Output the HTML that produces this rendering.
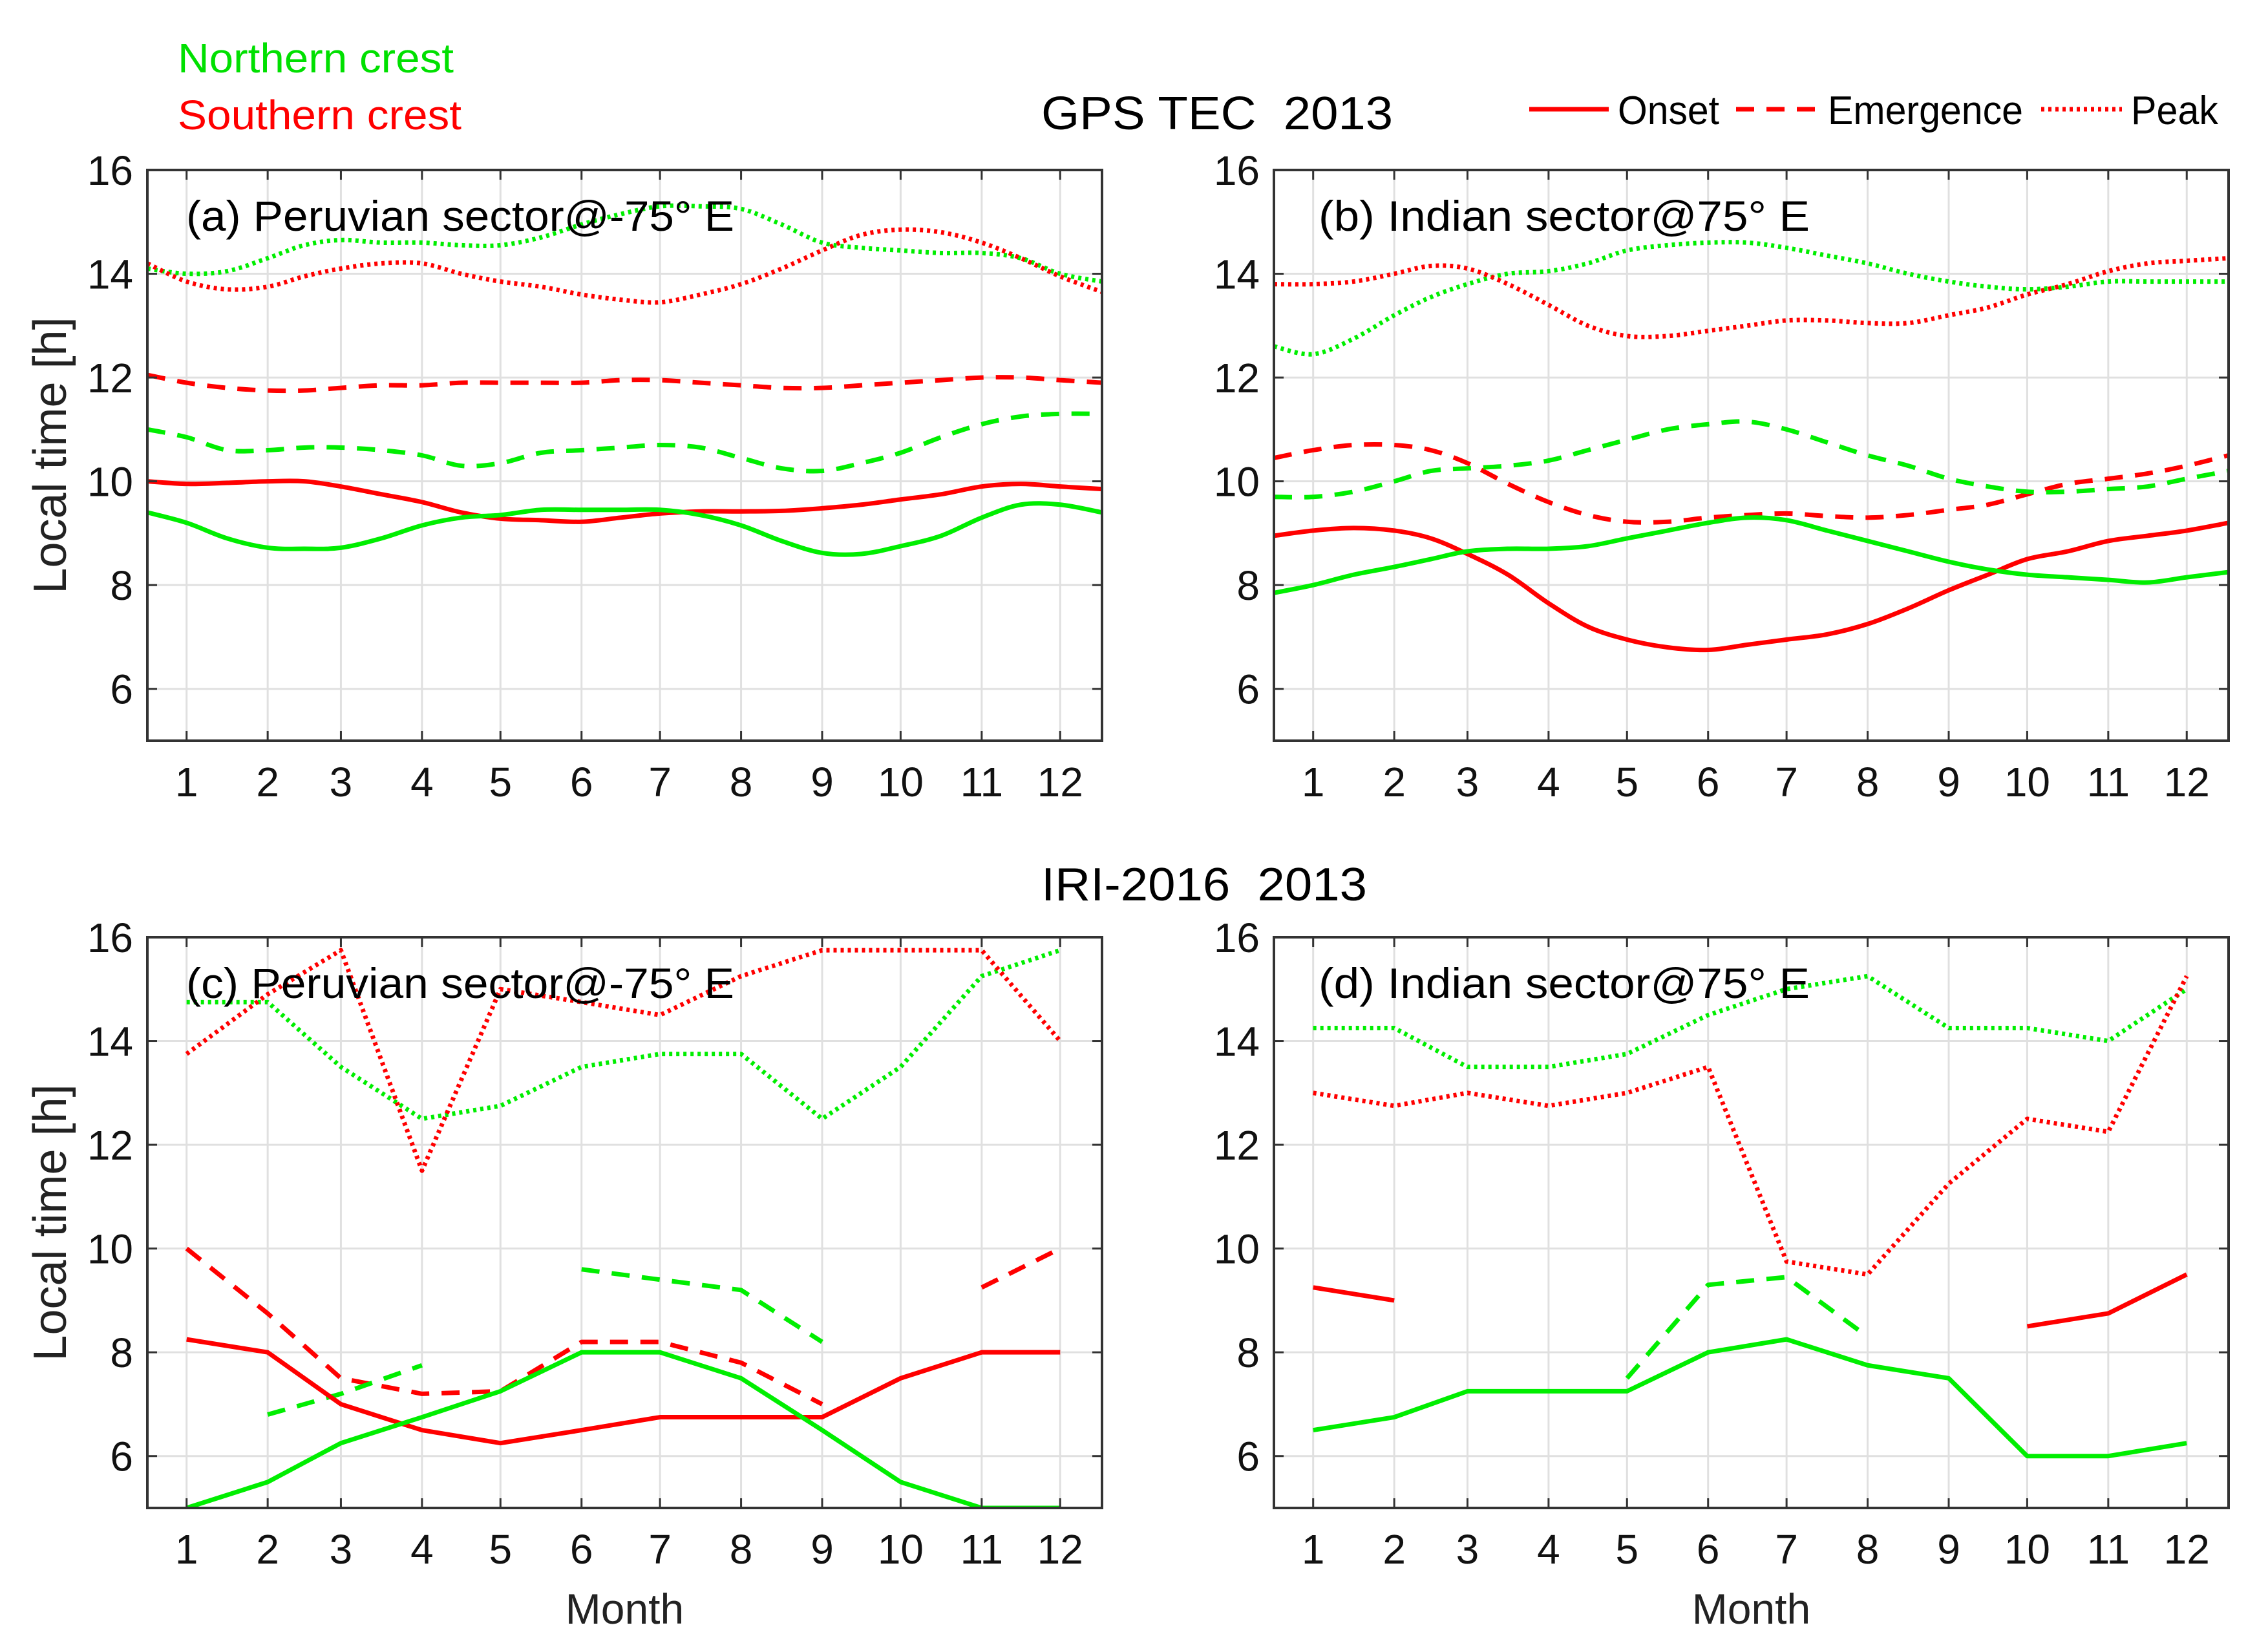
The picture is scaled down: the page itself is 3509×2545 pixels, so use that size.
<!DOCTYPE html>
<html><head><meta charset="utf-8"><style>
html,body{margin:0;padding:0;background:#fff;}
svg{display:block;font-family:"Liberation Sans",Arial,sans-serif;}
</style></head><body>
<svg id="fig" width="3509" height="2545" viewBox="0 0 3509 2545" xmlns="http://www.w3.org/2000/svg">
<rect x="0" y="0" width="3509" height="2545" fill="#fff"/>
<text x="275" y="112" font-size="64" textLength="427" lengthAdjust="spacingAndGlyphs" fill="#00e000">Northern crest</text>
<text x="275" y="200" font-size="64" textLength="439" lengthAdjust="spacingAndGlyphs" fill="#ff0000">Southern crest</text>
<text x="1611" y="200" font-size="72" textLength="544" lengthAdjust="spacingAndGlyphs" fill="#000">GPS TEC&#160;&#160;2013</text>
<text x="1611" y="1393" font-size="72" textLength="504" lengthAdjust="spacingAndGlyphs" fill="#000">IRI-2016&#160;&#160;2013</text>
<g>
  <line x1="2366" y1="169" x2="2489" y2="169" stroke="#ff0000" stroke-width="7"/>
  <text x="2503" y="192" font-size="62" textLength="157" lengthAdjust="spacingAndGlyphs">Onset</text>
  <line x1="2686" y1="169" x2="2808" y2="169" stroke="#ff0000" stroke-width="7" stroke-dasharray="28,19"/>
  <text x="2828" y="192" font-size="62" textLength="302" lengthAdjust="spacingAndGlyphs">Emergence</text>
  <line x1="3158" y1="169" x2="3283" y2="169" stroke="#ff0000" stroke-width="7" stroke-dasharray="5,6"/>
  <text x="3297" y="192" font-size="62" textLength="135" lengthAdjust="spacingAndGlyphs">Peak</text>
</g>
<g id="panels"></g>
</svg>
<script>
// month sample grids (month positions; mapped to day-of-year for the axis)
const halfMonths = [0.5,1,1.5,2,2.5,3,3.5,4,4.5,5,5.5,6,6.5,7,7.5,8,8.5,9,9.5,10,10.5,11,11.5,12,12.5];
const months = [1,2,3,4,5,6,7,8,9,10,11,12];
const tickDays = [15,46,74,105,135,166,196,227,258,288,319,349];
const yTicks = [6,8,10,12,14,16];
const xTickLabels = ["1","2","3","4","5","6","7","8","9","10","11","12"];

// Panel (a) GPS TEC Peruvian
const aNPeak = [14.1,14.0,14.05,14.3,14.55,14.65,14.6,14.6,14.55,14.55,14.7,14.95,15.15,15.3,15.3,15.25,14.95,14.6,14.5,14.45,14.4,14.4,14.3,14.0,13.85];
const aSPeak = [14.2,13.85,13.7,13.75,13.95,14.1,14.2,14.2,14.0,13.85,13.75,13.6,13.5,13.45,13.6,13.8,14.1,14.45,14.75,14.85,14.8,14.6,14.3,13.95,13.65];
const aSEmer = [12.05,11.9,11.8,11.75,11.75,11.8,11.85,11.85,11.9,11.9,11.9,11.9,11.95,11.95,11.9,11.85,11.8,11.8,11.85,11.9,11.95,12.0,12.0,11.95,11.9];
const aNEmer = [11.0,10.85,10.6,10.6,10.65,10.65,10.6,10.5,10.3,10.35,10.55,10.6,10.65,10.7,10.65,10.45,10.25,10.2,10.35,10.55,10.85,11.1,11.25,11.3,11.3];
const aSOnset = [10.0,9.95,9.97,10.0,10.0,9.9,9.75,9.6,9.4,9.28,9.25,9.22,9.3,9.38,9.42,9.42,9.43,9.48,9.55,9.65,9.75,9.9,9.95,9.9,9.85];
const aNOnset = [9.4,9.2,8.9,8.72,8.7,8.72,8.9,9.15,9.3,9.35,9.45,9.45,9.45,9.45,9.35,9.15,8.85,8.62,8.6,8.75,8.95,9.3,9.55,9.55,9.4];

// Panel (b) GPS TEC Indian
const bNPeak = [12.6,12.45,12.75,13.2,13.55,13.8,14.0,14.05,14.2,14.45,14.55,14.6,14.6,14.5,14.35,14.2,14.0,13.85,13.75,13.7,13.75,13.85,13.85,13.85,13.85];
const bSPeak = [13.8,13.8,13.85,14.0,14.15,14.1,13.8,13.4,13.0,12.8,12.8,12.9,13.0,13.1,13.1,13.05,13.05,13.2,13.35,13.6,13.8,14.05,14.2,14.25,14.3];
const bSEmer = [10.45,10.6,10.7,10.7,10.6,10.35,9.95,9.6,9.35,9.22,9.22,9.3,9.35,9.38,9.33,9.3,9.35,9.45,9.55,9.75,9.95,10.05,10.15,10.3,10.5];
const bNEmer = [9.7,9.7,9.8,10.0,10.2,10.25,10.3,10.4,10.6,10.8,11.0,11.1,11.15,11.0,10.75,10.5,10.3,10.05,9.9,9.8,9.8,9.85,9.9,10.05,10.2];
const bSOnset = [8.95,9.05,9.1,9.05,8.9,8.6,8.2,7.65,7.2,6.95,6.8,6.75,6.85,6.95,7.05,7.25,7.55,7.9,8.2,8.5,8.65,8.85,8.95,9.05,9.2];
const bNOnset = [7.85,8.0,8.2,8.35,8.5,8.65,8.7,8.7,8.75,8.9,9.05,9.2,9.3,9.25,9.05,8.85,8.65,8.45,8.3,8.2,8.15,8.1,8.05,8.15,8.25];

// Panel (c) IRI Peruvian
const cNPeak = [14.75,14.75,13.5,12.5,12.75,13.5,13.75,13.75,12.5,13.5,15.25,15.75];
const cSPeak = [13.75,14.9,15.75,11.5,15.0,14.75,14.5,15.25,15.75,15.75,15.75,14.0];
const cSEmer = [10.0,8.75,7.5,7.2,7.25,8.2,8.2,7.8,7.0,null,9.25,10.0];
const cNEmer = [null,6.8,7.2,7.75,null,9.6,9.4,9.2,8.2,null,null,null];
const cSOnset = [8.25,8.0,7.0,6.5,6.25,6.5,6.75,6.75,6.75,7.5,8.0,8.0];
const cNOnset = [5.0,5.5,6.25,6.75,7.25,8.0,8.0,7.5,6.5,5.5,5.0,5.0];

// Panel (d) IRI Indian
const dNPeak = [14.25,14.25,13.5,13.5,13.75,14.5,15.0,15.25,14.25,14.25,14.0,15.0];
const dSPeak = [13.0,12.75,13.0,12.75,13.0,13.5,9.75,9.5,11.25,12.5,12.25,15.25];
const dSOnset = [9.25,9.0,null,null,null,null,null,null,null,8.5,8.75,9.5];
const dNEmer = [null,null,null,null,7.5,9.3,9.45,8.3,null,null,null,null];
const dNOnset = [6.5,6.75,7.25,7.25,7.25,8.0,8.25,7.75,7.5,6.0,6.0,6.25];

const NS="http://www.w3.org/2000/svg";
const GREEN="#00ee00", RED="#ff0000";
const styles={onset:{w:7,d:null},emer:{w:7,d:"28,19"},peak:{w:7,d:"5,6"}};

const panels=[
 {id:"a",x0:228,y0:263,label:"(a)  Peruvian sector@-75° E",labelX:288,labelLen:848,xs:halfMonths,smooth:true,ylab:true,month:false,
  series:[["n-peak",aNPeak,GREEN,"peak"],["s-peak",aSPeak,RED,"peak"],["s-emergence",aSEmer,RED,"emer"],["n-emergence",aNEmer,GREEN,"emer"],["s-onset",aSOnset,RED,"onset"],["n-onset",aNOnset,GREEN,"onset"]]},
 {id:"b",x0:1971,y0:263,label:"(b)   Indian sector@75° E",labelX:2040,labelLen:760,xs:halfMonths,smooth:true,ylab:false,month:false,
  series:[["n-peak",bNPeak,GREEN,"peak"],["s-peak",bSPeak,RED,"peak"],["s-emergence",bSEmer,RED,"emer"],["n-emergence",bNEmer,GREEN,"emer"],["s-onset",bSOnset,RED,"onset"],["n-onset",bNOnset,GREEN,"onset"]]},
 {id:"c",x0:228,y0:1450,label:"(c)  Peruvian sector@-75° E",labelX:288,labelLen:848,xs:months,smooth:false,ylab:true,month:true,
  series:[["n-peak",cNPeak,GREEN,"peak"],["s-peak",cSPeak,RED,"peak"],["s-emergence",cSEmer,RED,"emer"],["n-emergence",cNEmer,GREEN,"emer"],["s-onset",cSOnset,RED,"onset"],["n-onset",cNOnset,GREEN,"onset"]]},
 {id:"d",x0:1971,y0:1450,label:"(d)   Indian sector@75° E",labelX:2040,labelLen:760,xs:months,smooth:false,ylab:false,month:true,
  series:[["n-peak",dNPeak,GREEN,"peak"],["s-peak",dSPeak,RED,"peak"],["s-onset",dSOnset,RED,"onset"],["n-emergence",dNEmer,GREEN,"emer"],["n-onset",dNOnset,GREEN,"onset"]]}
];
const W=1477,H=883;
const root=document.getElementById("panels");
function mk(t,a,p){const e=document.createElementNS(NS,t);for(const k in a)e.setAttribute(k,a[k]);(p||root).appendChild(e);return e;}

// map month position to day of year (piecewise linear through mid-month ticks)
function monthToDay(m){
  const ms=[0.5].concat(months,[12.5]);
  const ds=[0].concat(tickDays,[365]);
  for(let i=0;i<ms.length-1;i++){
    if(m<=ms[i+1]){const f=(m-ms[i])/(ms[i+1]-ms[i]);return ds[i]+f*(ds[i+1]-ds[i]);}
  }
  return 365;
}

function pathSmooth(pts){
  let d="M"+pts[0][0]+","+pts[0][1];
  for(let i=0;i<pts.length-1;i++){
    const p0=pts[Math.max(0,i-1)],p1=pts[i],p2=pts[i+1],p3=pts[Math.min(pts.length-1,i+2)];
    const c1x=p1[0]+(p2[0]-p0[0])/6,c1y=p1[1]+(p2[1]-p0[1])/6;
    const c2x=p2[0]-(p3[0]-p1[0])/6,c2y=p2[1]-(p3[1]-p1[1])/6;
    d+=" C"+c1x+","+c1y+" "+c2x+","+c2y+" "+p2[0]+","+p2[1];
  }
  return d;
}

panels.forEach(P=>{
  const xS=m=>P.x0+monthToDay(m)/365*W;
  const yS=v=>P.y0+H-(v-5)/11*H;
  const g=mk("g",{});
  
  
  const clip=mk("clipPath",{id:"clip"+P.id},g);
  mk("rect",{x:P.x0,y:P.y0,width:W,height:H},clip);
  months.forEach(m=>{
    const l=mk("line",{x1:xS(m),x2:xS(m),y1:P.y0,y2:P.y0+H,stroke:"#e0e0e0","stroke-width":3},g);
    
    
  });
  yTicks.forEach(v=>{
    const l=mk("line",{x1:P.x0,x2:P.x0+W,y1:yS(v),y2:yS(v),stroke:"#e0e0e0","stroke-width":3},g);
    
    
  });
  const sg=mk("g",{"clip-path":"url(#clip"+P.id+")"},g);
  P.series.forEach(s=>{
    const [name,vals,col,st]=s;
    let segs=[],cur=[];
    vals.forEach((v,i)=>{if(v===null){if(cur.length)segs.push(cur);cur=[];}else cur.push([xS(P.xs[i]),yS(v)]);});
    if(cur.length)segs.push(cur);
    segs.forEach(seg=>{
      if(seg.length<2)return;
      const d=P.smooth?pathSmooth(seg):"M"+seg.map(p=>p[0]+","+p[1]).join(" L");
      const a={d:d,fill:"none",stroke:col,"stroke-width":styles[st].w,"stroke-linejoin":"round"};
      if(styles[st].d)a["stroke-dasharray"]=styles[st].d;
      const pth=mk("path",a,sg);
      
      
    });
  });
  const box=mk("rect",{x:P.x0,y:P.y0,width:W,height:H,fill:"none",stroke:"#333","stroke-width":4},g);
  
  
  months.forEach((m,i)=>{
    mk("line",{x1:xS(m),x2:xS(m),y1:P.y0+H,y2:P.y0+H-15,stroke:"#333","stroke-width":3},g);
    mk("line",{x1:xS(m),x2:xS(m),y1:P.y0,y2:P.y0+15,stroke:"#333","stroke-width":3},g);
    const t=mk("text",{x:xS(m),y:P.y0+H+86,"font-size":64,"text-anchor":"middle",fill:"#111"},g);
    t.textContent=xTickLabels[i];
    
    
  });
  yTicks.forEach(v=>{
    mk("line",{x1:P.x0,x2:P.x0+15,y1:yS(v),y2:yS(v),stroke:"#333","stroke-width":3},g);
    mk("line",{x1:P.x0+W,x2:P.x0+W-15,y1:yS(v),y2:yS(v),stroke:"#333","stroke-width":3},g);
    const t=mk("text",{x:P.x0-22,y:yS(v)+23,"font-size":64,"text-anchor":"end",fill:"#111"},g);
    t.textContent=String(v);
    
    
  });
  const lab=mk("text",{x:P.labelX,y:P.y0+94,"font-size":66,fill:"#000",textLength:P.labelLen,lengthAdjust:"spacingAndGlyphs"},g);
  lab.textContent=P.label;
  
  
  if(P.ylab){
    const cy=P.y0+H/2;
    const yl=mk("text",{x:0,y:0,"font-size":72,"text-anchor":"middle",fill:"#222",transform:"translate(102,"+cy+") rotate(-90)"},g);
    yl.textContent="Local time [h]";
    
    
  }
  if(P.month){
    const ml=mk("text",{x:P.x0+W/2,y:2512,"font-size":66,"text-anchor":"middle",fill:"#222"},g);
    ml.textContent="Month";
    
    
  }
});
</script>
</body></html>
